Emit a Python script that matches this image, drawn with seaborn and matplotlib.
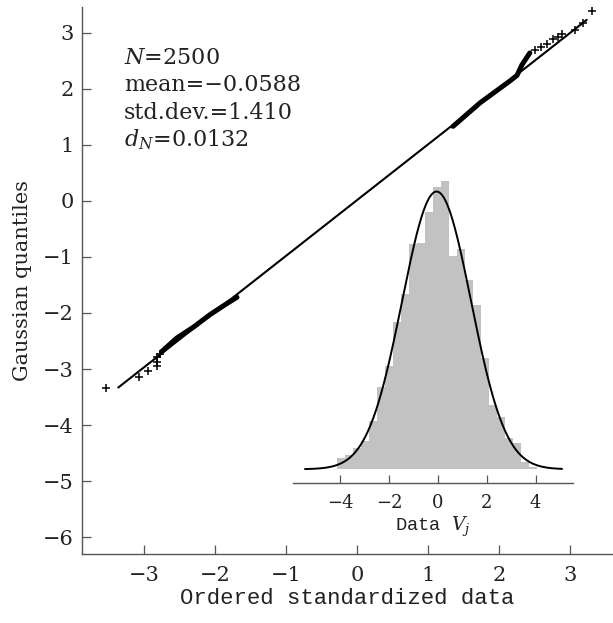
import numpy as np
import pandas as pd
import seaborn as sns

from matplotlib import pyplot as plt

# numbers quoted in the panel
N_SAMPLES = 2500
MEAN = -0.0588
STD = 1.410
D_N = 0.0132

# fitted reference line of the QQ plot (end points)
fit_x = [-3.36, 3.23]
fit_y = [-3.33, 3.23]

# dense stretches of the ordered data, read as traces
low_band_x = [-2.75, -2.54, -2.30, -2.07, -1.83, -1.69]
low_band_y = [-2.69, -2.45, -2.25, -2.03, -1.83, -1.72]
high_band_x = [1.35, 1.73, 2.15, 2.25, 2.32, 2.43]
high_band_y = [1.33, 1.75, 2.14, 2.24, 2.43, 2.64]

# isolated tail points
tail_x = [-3.53, -3.07, -2.94, -2.82, -2.82, -2.81, -2.77,
          2.50, 2.59, 2.67, 2.76, 2.83, 2.88, 3.07, 3.18, 3.31]
tail_y = [-3.33, -3.15, -3.03, -2.95, -2.87, -2.79, -2.73,
          2.70, 2.75, 2.80, 2.88, 2.93, 2.98, 3.05, 3.18, 3.38]

# inset histogram of the data V_j
hist_left = -4.14
hist_width = 0.328
hist_counts = [9, 12, 18, 24, 40, 69, 86, 123, 146, 188, 189, 215, 236,
               241, 178, 184, 158, 137, 93, 54, 44, 26, 22, 6, 2]

sns.set_style("ticks")
plt.rcParams['font.family'] = ['DejaVu Serif']
plt.rcParams['mathtext.fontset'] = 'dejavuserif'
TXT = '#222222'
SPINE = '#555555'

fig = plt.figure(figsize=(6.13, 6.23), dpi=100)
ax = fig.add_axes([0.1338, 0.1108, 0.8662, 0.878])

# QQ plot
sns.lineplot(x=fit_x, y=fit_y, color='black', lw=1.5, ax=ax)
sns.lineplot(x=low_band_x, y=low_band_y, sort=False, estimator=None,
             color='black', lw=3.6, ax=ax)
sns.lineplot(x=high_band_x, y=high_band_y, sort=False, estimator=None,
             color='black', lw=3.6, ax=ax)
sns.scatterplot(x=tail_x, y=tail_y, marker='+', s=30, color='black',
                linewidth=1.1, ax=ax)

ax.set_xlim(-3.87, 3.6)
ax.set_ylim(-6.3, 3.46)
ax.set_xticks(range(-3, 4))
ax.set_yticks(range(-6, 4))
sns.despine(ax=ax)
for s in ['left', 'bottom']:
    ax.spines[s].set_color(SPINE)
    ax.spines[s].set_linewidth(1.0)
ax.tick_params(direction='in', length=6.5, width=0.9, color=SPINE,
               labelsize=15, labelcolor=TXT)
ax.tick_params(axis='x', pad=9)
ax.tick_params(axis='y', pad=6)
ax.set_xlabel("Ordered standardized data", family='Liberation Mono',
              fontsize=16, color=TXT, labelpad=2)
ax.set_ylabel("Gaussian quantiles", fontsize=15, color=TXT, labelpad=8)

stats = [r"$N$=%d" % N_SAMPLES,
         "mean=\u2212%.4f" % abs(MEAN),
         "std.dev.=%.3f" % STD,
         r"$d_N$=%.4f" % D_N]
for k, line in enumerate(stats):
    ax.text(0.079, 0.896 - k * 0.0505, line, transform=ax.transAxes,
            fontsize=16, color=TXT, va='baseline')

# inset histogram with the fitted gaussian
ins = fig.add_axes([0.478, 0.2247, 0.4568, 0.5024])
edges = (hist_left + hist_width * np.arange(len(hist_counts) + 1)).tolist()
centers = [0.5 * (a + b) for a, b in zip(edges[:-1], edges[1:])]
hist_df = pd.DataFrame({'v': centers, 'n': hist_counts})
sns.histplot(data=hist_df, x='v', weights='n', bins=edges, color='#c2c2c2',
             alpha=1, edgecolor='none', linewidth=0, ax=ins)
gx = np.linspace(-5.45, 5.08, 400)
gy = N_SAMPLES * hist_width * np.exp(-0.5 * ((gx - MEAN) / STD) ** 2) / (STD * np.sqrt(2 * np.pi))
sns.lineplot(x=gx, y=gy, color='black', lw=1.4, ax=ins)

ins.set_xlim(-5.94, 5.53)
ins.set_ylim(-11.5, 250)
ins.set_xticks([-4, -2, 0, 2, 4])
ins.set_yticks([])
ins.patch.set_alpha(0)
for s in ['left', 'top', 'right']:
    ins.spines[s].set_visible(False)
ins.spines['bottom'].set_color(SPINE)
ins.spines['bottom'].set_linewidth(1.0)
ins.tick_params(axis='x', direction='in', length=5.8, width=0.9, color=SPINE,
                labelsize=13, labelcolor=TXT, pad=8)
ins.set_ylabel("")
ins.set_xlabel(r"Data $V_j$", family='Liberation Mono', fontsize=13.5,
               color=TXT, labelpad=2)

fig.savefig("out.png", dpi=100)
